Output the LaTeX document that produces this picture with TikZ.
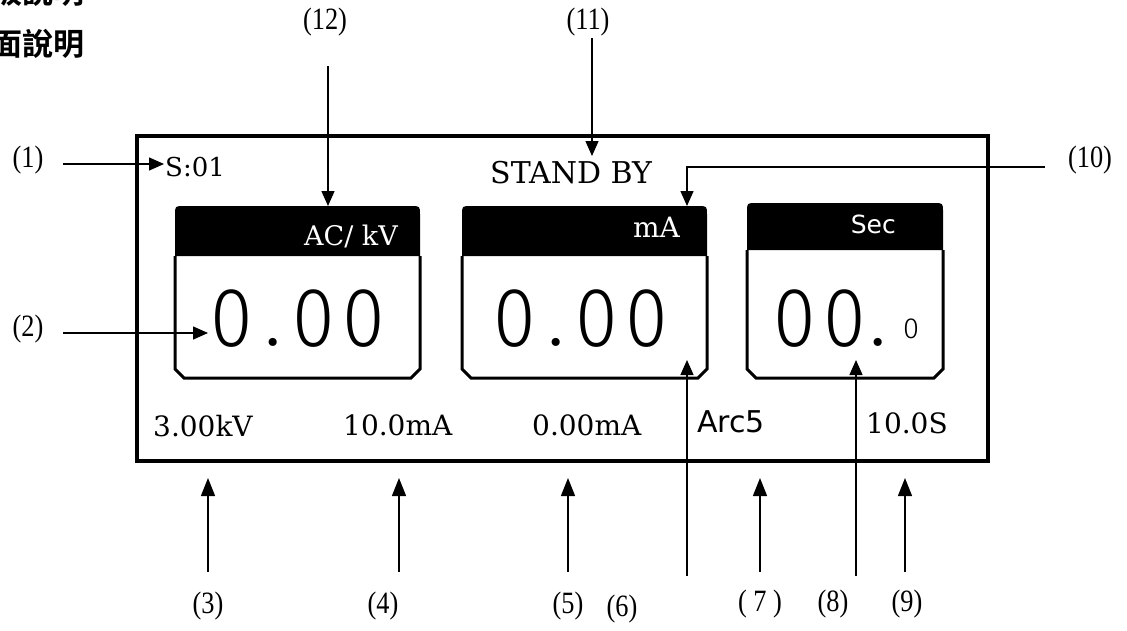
\documentclass[tikz,border=0pt]{standalone}
\usepackage{fontspec}
\setmainfont{Liberation Serif}
\newfontfamily\lcd{DejaVu Serif}
\newfontfamily\lcdsans{DejaVu Sans}
\newfontfamily\thinf{Fira Sans Light}
\newfontfamily\cjk{Noto Sans CJK TC Bold}
\usetikzlibrary{arrows.meta}
\newcommand\Dg[1]{\makebox[50pt]{\scalebox{0.92}[1]{#1}}}
\newcommand\Dd[1][32pt]{\makebox[#1]{\raisebox{1pt}{.}}}
\newcommand\Lb[1]{\scalebox{0.85}[1]{#1}}
\tikzset{
  lbl/.style={inner sep=0pt, font=\fontsize{31}{31}\selectfont},
  lcdtxt/.style={inner sep=0pt, font=\lcd\fontsize{28}{28}\selectfont},
  bigtxt/.style={inner sep=0pt, anchor=base west, font=\thinf\fontsize{84}{84}\selectfont},
  arr/.style={line width=1.4pt, -{Triangle[length=15pt,width=13pt]}},
  arrb/.style={line width=1.4pt, -{Triangle[length=18pt,width=14pt]}},
  frame/.style={line width=3.5pt},
  boxline/.style={line width=3pt},
}
\newcommand\lcdbox[6]{% name, L, R, T, H, B
  \fill (#2,#5) -- (#2,#4+9) .. controls (#2,#4) .. (#2+9,#4) -- (#3-9,#4) .. controls (#3,#4) .. (#3,#4+9) -- (#3,#5) -- cycle;
  \draw[boxline] (#2,#5) -- (#2,#6-9) -- (#2+9,#6) -- (#3-9,#6) -- (#3,#6-9) -- (#3,#5);
  \coordinate (#1-tl) at (#2,#4);
}
\begin{document}
\begin{tikzpicture}[x=1pt,y=-1pt]
\useasboundingbox (0,0) rectangle (1127,630);
\begin{scope}
  \clip (0,0) rectangle (1127,630);
  \node[inner sep=0pt, anchor=base east, font=\cjk\fontsize{31}{31}\selectfont] (ttlA) at (85,3) {面板說明};
  \node[inner sep=0pt, anchor=base east, font=\cjk\fontsize{31}{31}\selectfont] (ttlB) at (85,55) {畫面說明};
\end{scope}

% outer frame
\draw[frame] (137,136) rectangle (988,461);

% boxes
\lcdbox{b1}{175}{420}{206}{256}{378}
\lcdbox{b2}{462}{707}{206}{256}{378}
\lcdbox{b3}{747}{943}{203}{250}{378}

% header texts
\node[lcdtxt, text=white, anchor=base east, font=\lcd\fontsize{27}{27}\selectfont] (h1) at (398,245) {AC/ kV};
\node[lcdtxt, text=white, anchor=base east] (h2) at (680,237) {mA};
\node[inner sep=0pt, text=white, anchor=base east, font=\lcdsans\fontsize{25}{25}\selectfont] (h3) at (896,233) {Sec};

% big readouts
\node[bigtxt] (v1) at (206.5,346) {\Dg{0}\Dd\Dg{0}\Dg{0}};
\node[bigtxt] (v2) at (490,346) {\Dg{0}\Dd\Dg{0}\Dg{0}};
\node[bigtxt] (v3) at (770,346) {\Dg{0}\Dg{0}\Dd[16pt]};
\node[inner sep=0pt, anchor=base, font=\thinf\fontsize{29}{29}\selectfont] (v3s) at (911,338) {0};

% status line
\node[lcdtxt, anchor=base west, font=\lcd\fontsize{26}{26}\selectfont] (s01) at (165,176) {S:01};
\node[lcdtxt, anchor=base west, font=\lcd\fontsize{30}{30}\selectfont] (stb) at (490,183) {STAND BY};

% bottom line
\node[lcdtxt, anchor=base west] (kv) at (153,436) {3.00kV};
\node[lcdtxt, anchor=base west] (ma1) at (343,435) {10.0mA};
\node[lcdtxt, anchor=base west] (ma2) at (532,435) {0.00mA};
\node[inner sep=0pt, anchor=base west, font=\lcdsans\fontsize{30}{30}\selectfont] (arc) at (697,432) {Arc5};
\node[lcdtxt, anchor=base west] (sec) at (866,433) {10.0S};

% labels
\node[lbl] (L1) at (28,160) {\Lb{(1)}};
\node[lbl] (L2) at (28,329) {\Lb{(2)}};
\node[lbl] (L12) at (325,22) {\Lb{(12)}};
\node[lbl] (L11) at (588,22) {\Lb{(11)}};
\node[lbl] (L10) at (1090,160) {\Lb{(10)}};
\node[lbl] (L3) at (208,606) {\Lb{(3)}};
\node[lbl] (L4) at (383,606) {\Lb{(4)}};
\node[lbl] (L5) at (568,606) {\Lb{(5)}};
\node[lbl] (L6) at (622,609) {\Lb{(6)}};
\node[lbl] (L7) at (760,604) {\Lb{( 7 )}};
\node[lbl] (L8) at (833,604) {\Lb{(8)}};
\node[lbl] (L9) at (907,604) {\Lb{(9)}};

% connector coordinates
\coordinate (a1s) at (63,164);   \coordinate (a1e) at (164,164);
\coordinate (a2s) at (63,333);   \coordinate (a2e) at (208,333);
\coordinate (a12s) at (328,66);  \coordinate (a12e) at (328,206);
\coordinate (a11s) at (592,38);  \coordinate (a11e) at (592,156);
\coordinate (a10s) at (1045,167); \coordinate (a10m) at (687,167); \coordinate (a10e) at (687,206);
\coordinate (a3s) at (208,572);  \coordinate (a3e) at (208,478);
\coordinate (a4s) at (399,572);  \coordinate (a4e) at (399,478);
\coordinate (a5s) at (568,572);  \coordinate (a5e) at (568,478);
\coordinate (a7s) at (760,572);  \coordinate (a7e) at (760,478);
\coordinate (a9s) at (905,572);  \coordinate (a9e) at (905,478);
\coordinate (a6s) at (687,576);  \coordinate (a6e) at (687,360);
\coordinate (a8s) at (856,576);  \coordinate (a8e) at (856,360);

\draw[arr] (a1s) -- (a1e);
\draw[arr] (a2s) -- (a2e);
\draw[arr] (a12s) -- (a12e);
\draw[arr] (a11s) -- (a11e);
\draw[arr] (a10s) -- (a10m) -- (a10e);
\draw[arrb] (a3s) -- (a3e);
\draw[arrb] (a4s) -- (a4e);
\draw[arrb] (a5s) -- (a5e);
\draw[arrb] (a7s) -- (a7e);
\draw[arrb] (a9s) -- (a9e);
\draw[arr] (a6s) -- (a6e);
\draw[arr] (a8s) -- (a8e);
\end{tikzpicture}
\end{document}
